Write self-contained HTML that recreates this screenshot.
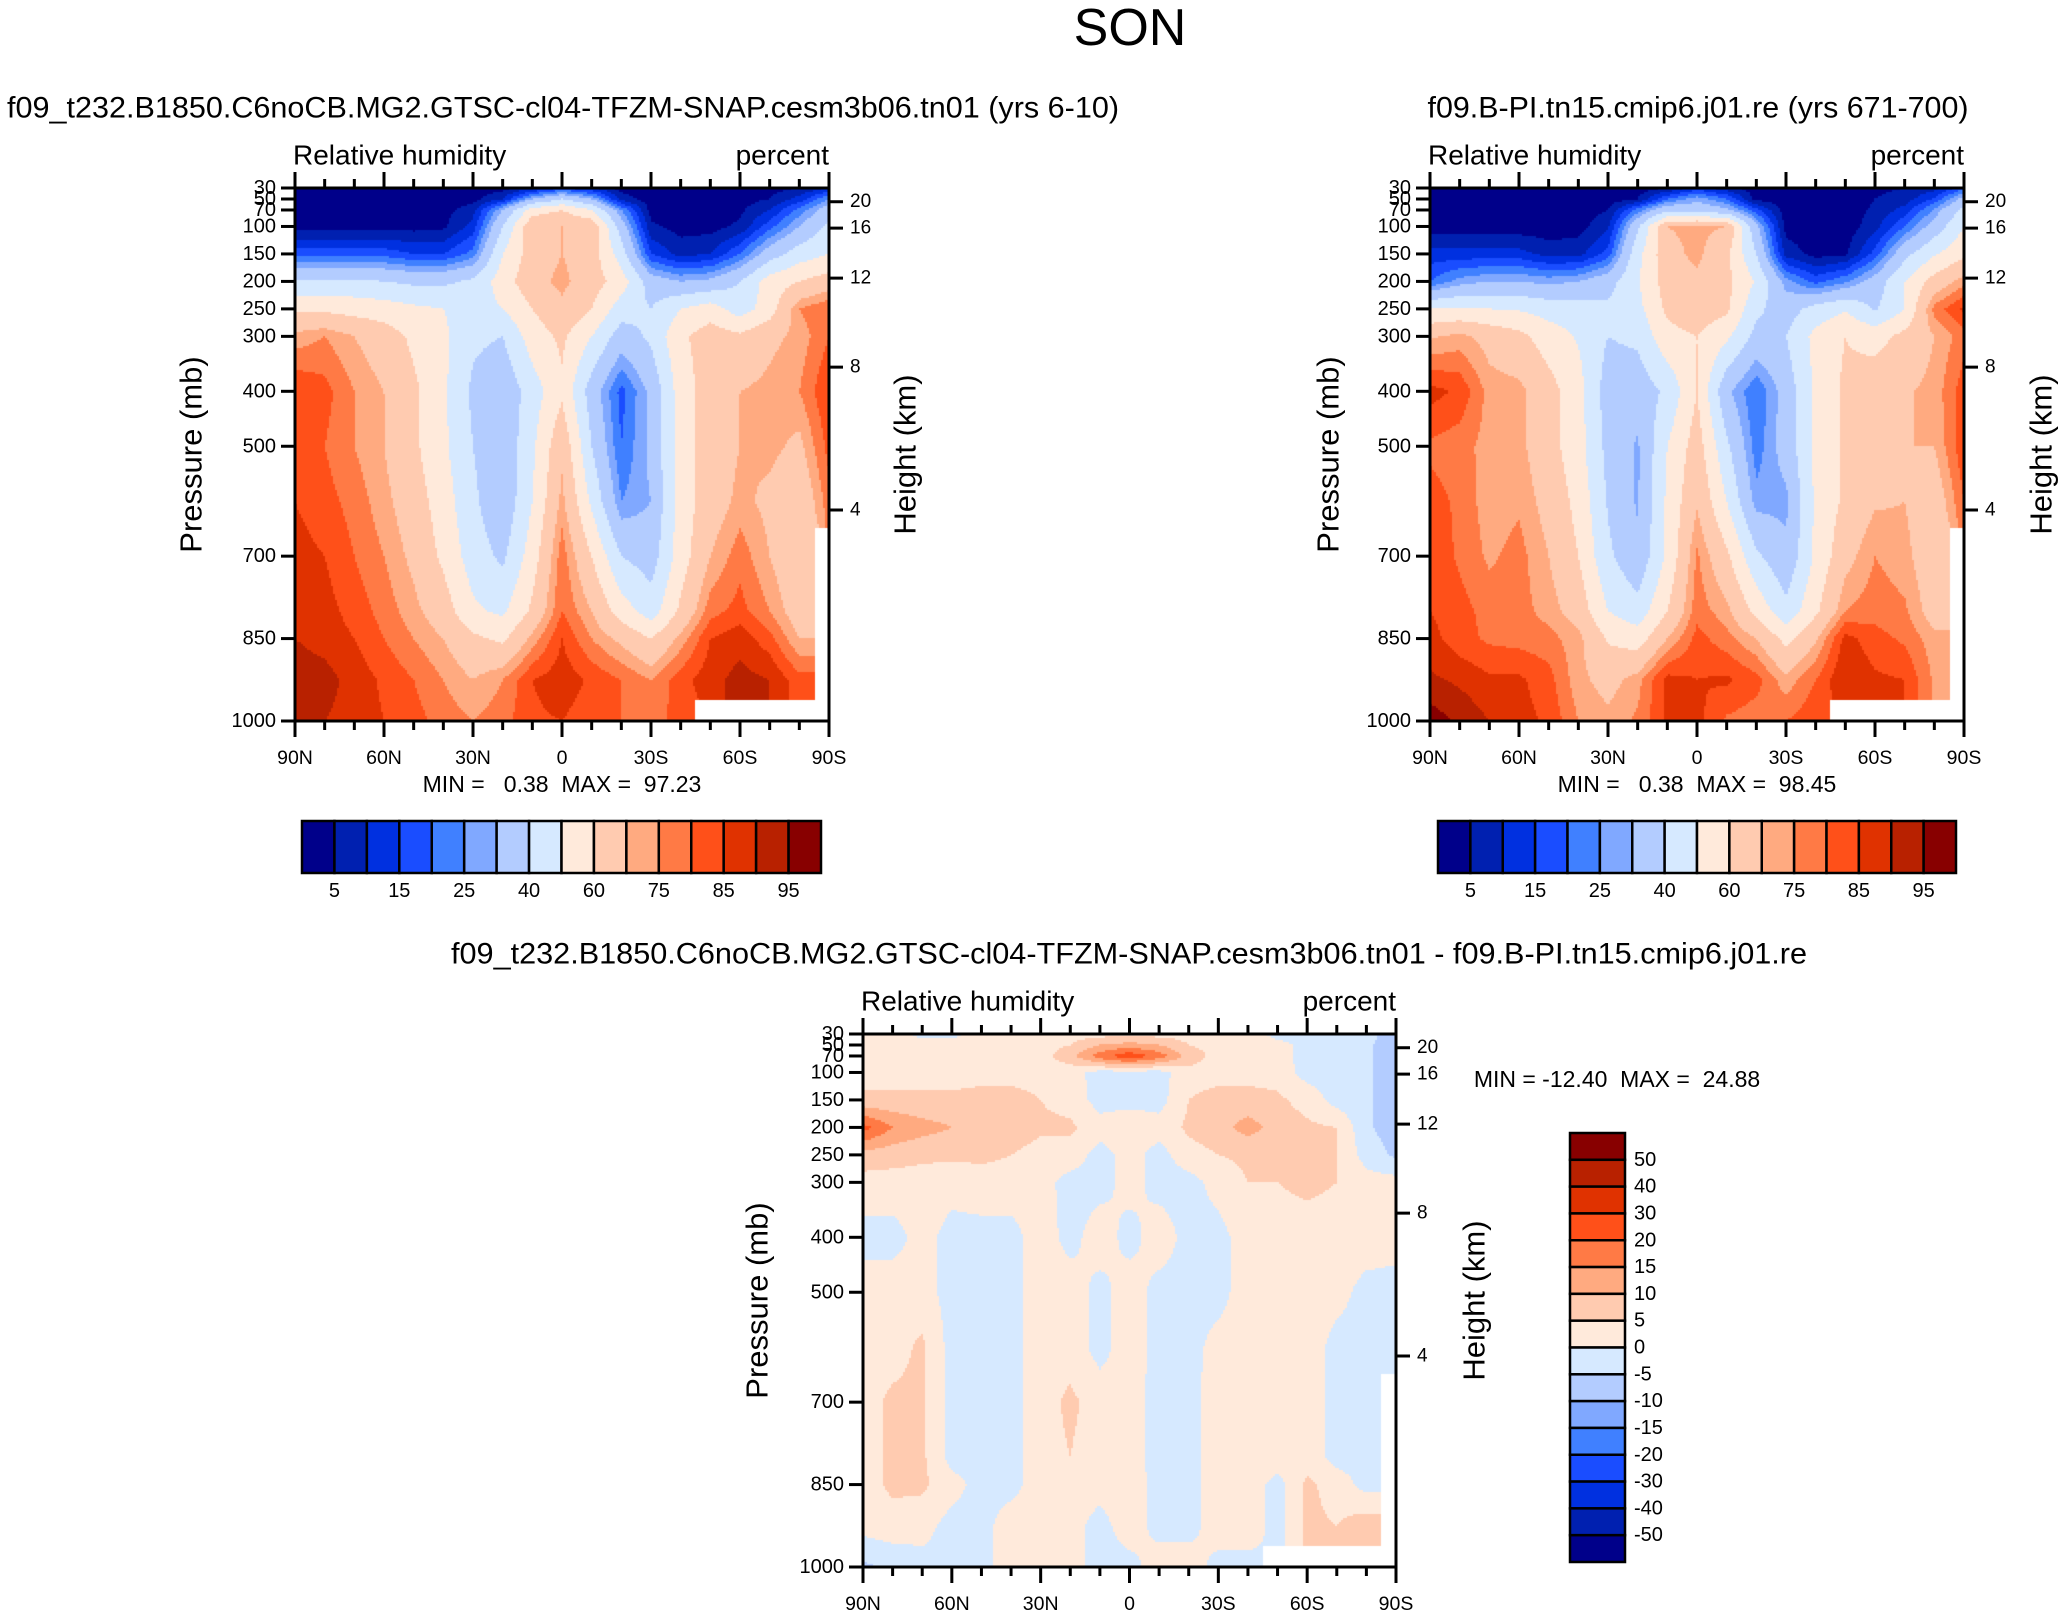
<!DOCTYPE html>
<html><head><meta charset="utf-8">
<style>
html,body{margin:0;padding:0;background:#fff;}
#wrap{position:relative;width:2063px;height:1617px;overflow:hidden;font-family:"Liberation Sans",sans-serif;}
canvas{position:absolute;}
svg{position:absolute;left:0;top:0;}
svg text{white-space:pre;}
</style></head>
<body>
<div id="wrap">
<canvas id="c1"></canvas>
<canvas id="c2"></canvas>
<canvas id="c3"></canvas>
<svg id="svg" width="2063" height="1617" xmlns="http://www.w3.org/2000/svg"></svg>
</div>
<script>
const lats=[90,80,70,60,50,40,30,20,10,0,-10,-20,-30,-40,-50,-60,-70,-80,-90];
const levels=[30,50,70,100,150,200,250,300,400,500,600,700,800,850,925,1000];
const rh1=[
[2,2,2,2,2,2,2,3,8,15,10,3,2,2,2,2,3,5,10],
[2,2,2,2,2,2,3,10,30,40,30,8,2,2,2,3,5,12,25],
[2,2,2,2,2,3,8,30,55,60,50,25,3,2,2,4,10,22,35],
[3,3,3,3,3,4,12,40,68,70,68,35,6,3,3,6,18,30,42],
[18,18,18,18,15,15,22,50,65,70,65,45,15,8,10,20,35,45,50],
[42,42,42,40,38,38,42,55,67,72,65,55,35,30,32,40,55,60,65],
[58,58,56,55,52,50,45,50,60,68,60,45,40,50,55,45,55,75,80],
[72,75,70,65,58,52,42,40,55,62,50,35,42,58,65,62,68,72,80],
[85,82,75,70,62,52,38,32,45,58,35,18,32,55,65,70,72,75,85],
[82,80,75,70,62,52,40,32,48,68,40,20,32,55,65,70,72,68,82],
[85,82,78,72,65,55,42,32,50,72,48,25,30,55,65,72,68,62,78],
[87,85,80,75,68,58,45,38,55,78,60,40,35,55,70,78,70,62,null],
[88,87,83,78,72,65,52,48,62,80,70,55,45,62,78,82,75,65,null],
[90,88,85,80,75,70,62,58,72,85,75,68,60,72,85,88,82,70,null],
[93,92,88,84,80,75,70,75,85,88,84,80,75,83,88,92,90,82,null],
[92,90,88,85,82,78,75,78,84,85,82,80,78,82,null,null,null,null,null]];
const rh2=[
[2,2,4,4,2,2,2,2,5,12,7,2,2,2,4,4,5,8,18],
[2,2,2,2,2,2,2,5,20,28,20,3,2,2,2,5,7,16,33],
[2,2,2,2,2,2,5,22,37,36,32,17,2,2,2,6,12,26,43],
[2,2,2,2,2,3,9,38,70,72,70,32,3,2,2,8,20,34,50],
[12,12,12,12,8,8,17,47,67,72,62,40,8,3,4,17,37,49,58],
[20,27,30,30,28,30,36,49,65,68,63,49,27,18,24,34,50,64,73],
[50,51,50,49,46,45,42,47,62,66,62,42,35,44,49,39,50,77,86],
[69,72,67,63,55,49,40,42,57,60,52,37,40,53,60,56,63,70,78],
[87,84,73,72,64,54,35,34,42,60,32,20,34,52,62,67,69,72,83],
[79,77,73,72,64,54,37,29,50,65,42,22,34,52,62,67,70,70,84],
[82,79,72,74,67,57,39,29,52,69,50,27,28,52,62,69,70,64,80],
[84,79,74,77,70,60,42,32,52,76,62,42,32,52,67,75,72,64,null],
[85,82,78,77,73,66,50,44,60,78,72,57,43,58,75,78,76,66,null],
[87,82,79,78,77,72,59,55,70,82,77,70,57,69,87,82,79,72,null],
[91,89,86,86,82,72,67,73,87,85,86,82,72,80,90,86,85,74,null],
[98,94,90,87,84,75,72,76,86,87,79,77,80,84,null,null,null,null,null]];
const rhDiff=[
[3,3,-2,-2,3,3,3,3,3,3,3,3,3,3,-2,-2,-2,-3,-8],
[3,3,3,3,3,3,3,5,10,12,10,5,3,3,2,-2,-2,-4,-8],
[3,3,3,3,3,3,3,8,18,24,18,8,3,3,2,-2,-2,-4,-8],
[3,3,3,3,3,3,3,2,-2,-2,-2,3,3,3,3,-2,-2,-4,-8],
[6,6,6,6,7,7,5,3,-2,-2,-2,5,7,7,6,3,-2,-4,-8],
[22,15,12,10,10,8,6,6,2,4,2,6,8,12,8,6,5,-4,-8],
[8,7,6,6,6,5,3,3,-2,2,-2,3,5,6,6,6,5,-2,-6],
[3,3,3,2,3,3,2,-2,-2,2,-2,-2,2,5,5,6,5,2,2],
[-2,-2,2,-2,-2,-2,3,-2,3,-2,3,-2,-2,3,3,3,3,3,2],
[3,3,2,-2,-2,-2,3,3,-2,3,-2,-2,-2,3,3,3,2,-2,-2],
[3,3,6,-2,-2,-2,3,3,-2,3,-2,-2,2,3,3,3,-2,-2,-2],
[3,6,6,-2,-2,-2,3,6,3,2,-2,-2,3,3,3,3,-2,-2,null],
[3,6,6,-2,-2,-2,3,5,2,2,-2,-2,3,3,3,3,-2,-2,null],
[3,6,6,2,-2,-2,3,3,2,3,-2,-2,3,3,-2,6,3,-2,null],
[2,3,2,-2,-2,3,3,2,-2,3,-2,-2,3,3,-2,6,5,8,null],
[-6,-4,-2,-2,-2,3,3,2,-2,-2,3,3,-2,-2,null,null,null,null,null]];
const rhBounds=[5,10,15,20,25,30,40,50,60,70,75,80,85,90,95];
const rhBarLabels=["5","15","25","40","60","75","85","95"];
const diffBounds=[-50,-40,-30,-20,-15,-10,-5,0,5,10,15,20,30,40,50];
const pTicks=[30,50,70,100,150,200,250,300,400,500,700,850,1000];
const latTicks=[90,60,30,0,-30,-60,-90];
const latTickLabels=["90N","60N","30N","0","30S","60S","90S"];
const heightTickP=[55,103,194,356,616];
const heightTickLabels=["20","16","12","8","4"];
const colors=["#00008a","#0020b0","#0030e0","#1a4dff","#4080ff","#80a8ff","#b3ccff","#d6e9ff","#ffeadb","#ffcbb0","#ffaa80","#ff7a45","#ff5019","#e03200","#b82100","#880000"];

const NS="http://www.w3.org/2000/svg";
const svg=document.getElementById('svg');
function mk(tag,attrs,parent){const e=document.createElementNS(NS,tag);for(const k in attrs)e.setAttribute(k,attrs[k]);(parent||svg).appendChild(e);return e;}
function txt(s,x,y,size,anchor,parent,rot){const e=mk('text',{x:x,y:y,'font-size':size,'text-anchor':anchor||'middle','dominant-baseline':'central','font-family':'Liberation Sans, sans-serif',fill:'#000'},parent);if(rot)e.setAttribute('transform','rotate(-90 '+x+' '+y+')');e.textContent=s;return e;}

function sample(f,lat,p){
  let i=0;while(i<lats.length-2&&lat<lats[i+1])i++;
  let j=0;while(j<levels.length-2&&p>levels[j+1])j++;
  const tx=(lats[i]-lat)/(lats[i]-lats[i+1]);
  const ty=(p-levels[j])/(levels[j+1]-levels[j]);
  const ni=tx<0.5?i:i+1, nj=ty<0.5?j:j+1;
  if(f[nj][ni]===null)return null;
  const cs=[[j,i,(1-tx)*(1-ty)],[j,i+1,tx*(1-ty)],[j+1,i,(1-tx)*ty],[j+1,i+1,tx*ty]];
  let s=0,w=0;for(const c of cs){const v=f[c[0]][c[1]];if(v!==null){s+=v*c[2];w+=c[2];}}
  return w>0?s/w:null;
}
function level(v,b){let k=0;while(k<b.length&&v>=b[k])k++;return k;}

function panel(o){
  const {id,field,bounds,x0,x1,y0,y1,name}=o;
  const W=x1-x0,H=y1-y0;
  const xs=lat=>x0+(90-lat)/180*W;
  const ys=p=>y0+(p-30)/970*H;
  const cv=document.getElementById(id);
  cv.width=W;cv.height=H;cv.style.left=x0+'px';cv.style.top=y0+'px';
  const ctx=cv.getContext('2d');
  const st=2;
  for(let py=0;py<H;py+=st){
    const p=30+(py+st/2)/H*970;
    for(let px=0;px<W;px+=st){
      const lat=90-(px+st/2)/W*180;
      const v=sample(field,lat,p);
      if(v===null)continue;
      ctx.fillStyle=colors[level(v,bounds)];
      ctx.fillRect(px,py,st,st);
    }
  }
  const g=mk('g',{});
  
  
  mk('rect',{x:x0,y:y0,width:W,height:H,fill:'none',stroke:'#000','stroke-width':3},g);
  for(let lat=90;lat>=-90;lat-=10){
    const x=xs(lat);const maj=lat%30===0;const L=maj?16:9;
    mk('line',{x1:x,x2:x,y1:y0,y2:y0-L,stroke:'#000','stroke-width':3},g);
    mk('line',{x1:x,x2:x,y1:y1,y2:y1+L,stroke:'#000','stroke-width':3},g);
  }
  latTicks.forEach((lat,k)=>{const t=txt(latTickLabels[k],xs(lat),y1+37,19.5,'middle',g);});
  pTicks.forEach(p=>{const y=ys(p);mk('line',{x1:x0,x2:x0-14,y1:y,y2:y,stroke:'#000','stroke-width':3},g);
    const t=txt(String(p),x0-19,y,20,'end',g);});
  heightTickP.forEach((p,k)=>{const y=ys(p);mk('line',{x1:x1,x2:x1+14,y1:y,y2:y,stroke:'#000','stroke-width':3},g);
    const t=txt(heightTickLabels[k],x1+21,y,19,'start',g);});
  const t1=txt('Relative humidity',x0-2,y0-33,28,'start',g);
  const t2=txt('percent',x1,y0-33,28,'end',g);
  const t3=txt('Pressure (mb)',o.plx,(y0+y1)/2,31,'middle',g,true);
  const t4=txt('Height (km)',o.hlx,(y0+y1)/2,31,'middle',g,true);
}

txt('SON',1130,28,52,'middle');
let tt=txt('f09_t232.B1850.C6noCB.MG2.GTSC-cl04-TFZM-SNAP.cesm3b06.tn01 (yrs 6-10)',563,108,30,'middle');
tt.setAttribute('textLength','1112');tt.setAttribute('lengthAdjust','spacingAndGlyphs');
tt=txt('f09.B-PI.tn15.cmip6.j01.re (yrs 671-700)',1698,108,30,'middle');
tt.setAttribute('textLength','541');tt.setAttribute('lengthAdjust','spacingAndGlyphs');
tt=txt('f09_t232.B1850.C6noCB.MG2.GTSC-cl04-TFZM-SNAP.cesm3b06.tn01 - f09.B-PI.tn15.cmip6.j01.re',1129,954,30,'middle');
tt.setAttribute('textLength','1356');tt.setAttribute('lengthAdjust','spacingAndGlyphs');

panel({id:'c1',field:rh1,bounds:rhBounds,x0:295,x1:829,y0:188,y1:721,name:'rh-panel-1',plx:191,hlx:905});
panel({id:'c2',field:rh2,bounds:rhBounds,x0:1430,x1:1964,y0:188,y1:721,name:'rh-panel-2',plx:1328,hlx:2041});
panel({id:'c3',field:rhDiff,bounds:diffBounds,x0:863,x1:1396,y0:1034,y1:1567,name:'rh-diff-panel',plx:757,hlx:1474});

txt('MIN =   0.38  MAX =  97.23',562,784,23,'middle');
txt('MIN =   0.38  MAX =  98.45',1697,784,23,'middle');
txt('MIN = -12.40  MAX =  24.88',1617,1079,23,'middle');

function hbar(x0,x1,y0,y1,name){
  const g=mk('g',{});
  const w=(x1-x0)/colors.length;
  colors.forEach((c,k)=>{const r=mk('rect',{x:x0+k*w,y:y0,width:w,height:y1-y0,fill:c,stroke:'#000','stroke-width':2.5},g);});
  rhBarLabels.forEach((l,k)=>{txt(l,x0+(2*k+1)*w,891,20,'middle',g);});
}
hbar(302,821,821,873,'colorbar-1');
hbar(1438,1956,821,873,'colorbar-2');
(function(){
  const x0=1570,x1=1625,y0=1133,y1=1562;
  const g=mk('g',{});
  const h=(y1-y0)/colors.length;
  for(let k=0;k<colors.length;k++){
    const r=mk('rect',{x:x0,y:y0+k*h,width:x1-x0,height:h,fill:colors[colors.length-1-k],stroke:'#000','stroke-width':2.5},g);
    
  }
  for(let k=0;k<diffBounds.length;k++){
    const v=diffBounds[diffBounds.length-1-k];
    txt(String(v),1634,y0+(k+1)*h,20,'start',g);
  }
})();
</script>
</body></html>
